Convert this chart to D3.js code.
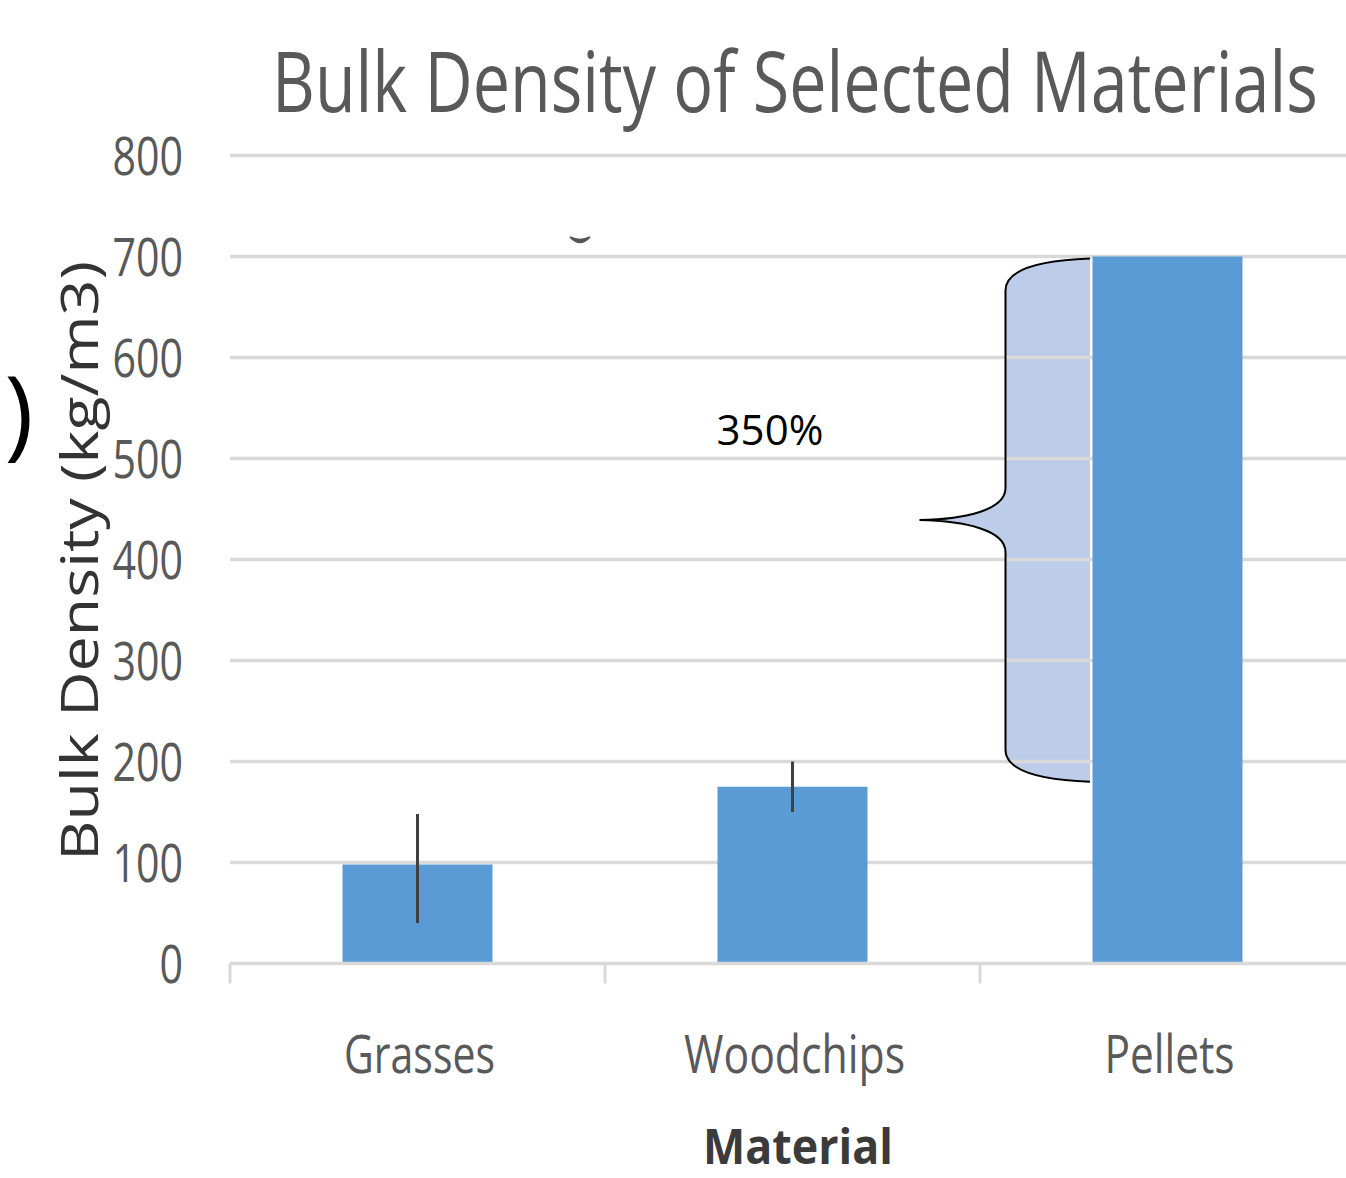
<!DOCTYPE html>
<html>
<head>
<meta charset="utf-8">
<script src="https://cdn.jsdelivr.net/npm/d3@7"></script>
<style>
  html, body { margin: 0; padding: 0; background: #fff; }
  svg { display: block; }
  text { font-family: "Open Sans", "DejaVu Sans", sans-serif; }
</style>
</head>
<body>
<svg id="chart" width="1346" height="1178"></svg>
<script>
// Bulk density per material (kg/m3)
const categories = ["Grasses", "Woodchips", "Pellets"];
const density = [98, 175, 700];
const errLow = [40, 150, null];
const errHigh = [148, 200, null];
const yTicks = [0, 100, 200, 300, 400, 500, 600, 700, 800];

// Span marked by the brace next to the Pellets bar
const braceFrom = 180;
const braceTo = 700;
const braceLabel = "350%";

const svg = d3.select("#chart");

const x = d3.scaleBand()
  .domain(categories)
  .range([230, 1355])
  .paddingInner(0.6)
  .paddingOuter(0.3);

const y = d3.scaleLinear().domain([0, 800]).range([963.5, 155.5]);

const plotLeft = 230, plotRight = 1346;

// Squeeze a text element horizontally to a target width
function fitWidth(sel, width, anchorX, anchorY, anchor) {
  const node = sel.node();
  const w = node.getComputedTextLength();
  const s = width / w;
  sel.attr("x", 0).attr("y", 0)
    .attr("text-anchor", anchor)
    .attr("transform", `translate(${anchorX},${anchorY}) scale(${s},1)`);
  return sel;
}

// Gridlines
svg.append("g")
  .selectAll("line")
  .data(yTicks.filter(d => d > 0))
  .join("line")
  .attr("x1", plotLeft).attr("x2", plotRight)
  .attr("y1", d => y(d)).attr("y2", d => y(d))
  .attr("stroke", "#d9d9d9").attr("stroke-width", 3.5);

// Y tick labels
svg.append("g")
  .selectAll("text")
  .data(yTicks)
  .join("text")
  .attr("x", 183)
  .attr("y", d => y(d) + 19)
  .attr("text-anchor", "end")
  .attr("font-size", 53)
  .attr("fill", "#595959")
  .attr("textLength", d => String(d).length * 23.5)
  .attr("lengthAdjust", "spacingAndGlyphs")
  .text(d => d);

// Brace annotation (filled region + outline)
const pel = categories[2];
const bx = x(pel);
const fillRight = bx - 2.5;
const vx = bx - 87;
const tipX = bx - 173;
const yTop = y(braceTo) + 2, yBot = y(braceFrom), yMid = (yTop + yBot) / 2;

function braceOutline(p) {
  p.moveTo(fillRight, yTop);
  p.bezierCurveTo(vx + 30, yTop + 2, vx, yTop + 12, vx, yTop + 32);
  p.lineTo(vx, yMid - 32);
  p.bezierCurveTo(vx, yMid - 10, vx - 40, yMid - 1, tipX, yMid);
  p.bezierCurveTo(vx - 40, yMid + 1, vx, yMid + 10, vx, yMid + 32);
  p.lineTo(vx, yBot - 32);
  p.bezierCurveTo(vx, yBot - 12, vx + 30, yBot - 2, fillRight, yBot);
  return p;
}

const fillPath = braceOutline(d3.path());
fillPath.closePath();

svg.append("path")
  .attr("d", fillPath.toString())
  .attr("fill", "#bdcde9");

// Gridlines show through the shaded band
svg.append("g")
  .selectAll("line")
  .data(yTicks.filter(d => d > braceFrom && d < braceTo))
  .join("line")
  .attr("x1", vx).attr("x2", fillRight)
  .attr("y1", d => y(d)).attr("y2", d => y(d))
  .attr("stroke", "#d9d9d9").attr("stroke-width", 3.5);

svg.append("path")
  .attr("d", braceOutline(d3.path()).toString())
  .attr("fill", "none")
  .attr("stroke", "#000")
  .attr("stroke-width", 2);

// Bars
svg.append("g")
  .selectAll("rect")
  .data(categories)
  .join("rect")
  .attr("x", d => x(d))
  .attr("width", x.bandwidth())
  .attr("y", (d, i) => y(density[i]))
  .attr("height", (d, i) => y(0) - y(density[i]))
  .attr("fill", "#5b9bd5");

// Error bars
svg.append("g")
  .selectAll("line")
  .data(categories.filter((d, i) => errLow[i] !== null))
  .join("line")
  .attr("x1", d => x(d) + x.bandwidth() / 2)
  .attr("x2", d => x(d) + x.bandwidth() / 2)
  .attr("y1", d => y(errLow[categories.indexOf(d)]))
  .attr("y2", d => y(errHigh[categories.indexOf(d)]))
  .attr("stroke", "#404040").attr("stroke-width", 3);

// Category axis
svg.append("line")
  .attr("x1", plotLeft).attr("x2", plotRight)
  .attr("y1", y(0)).attr("y2", y(0))
  .attr("stroke", "#d9d9d9").attr("stroke-width", 3.5);

const step = x.step();
const bounds = [0, 1, 2].map(i => x(categories[0]) - x.paddingOuter() * step + i * step);
svg.append("g")
  .selectAll("line")
  .data(bounds)
  .join("line")
  .attr("x1", d => d).attr("x2", d => d)
  .attr("y1", y(0)).attr("y2", y(0) + 20)
  .attr("stroke", "#d9d9d9").attr("stroke-width", 3);

const catWidths = [151, 221, 130];
svg.append("g")
  .selectAll("text")
  .data(categories)
  .join("text")
  .attr("x", d => x(d) + x.bandwidth() / 2 + 2)
  .attr("y", 1073)
  .attr("text-anchor", "middle")
  .attr("font-size", 53)
  .attr("fill", "#595959")
  .attr("textLength", (d, i) => catWidths[i])
  .attr("lengthAdjust", "spacingAndGlyphs")
  .text(d => d);

// Axis titles
const matTitle = svg.append("text")
  .attr("font-size", 49)
  .attr("font-weight", 700)
  .attr("fill", "#3b3b3b")
  .text("Material");
fitWidth(matTitle, 190, 798, 1164, "middle");

svg.append("text")
  .attr("transform", "translate(98,561) rotate(-90)")
  .attr("text-anchor", "middle")
  .attr("font-size", 51)
  .attr("fill", "#333")
  .attr("textLength", 600)
  .attr("lengthAdjust", "spacingAndGlyphs")
  .text("Bulk Density (kg/m3)");

// Chart title
const title = svg.append("text")
  .attr("font-size", 84)
  .attr("fill", "#595959")
  .text("Bulk Density of Selected Materials");
fitWidth(title, 1046, 272, 112, "start");

// Brace label
svg.append("text")
  .attr("x", 770).attr("y", 445)
  .attr("text-anchor", "middle")
  .attr("font-size", 42)
  .attr("fill", "#000")
  .text(braceLabel);

// Stray fragments at the edges
svg.append("text")
  .attr("x", 19).attr("y", 447)
  .attr("text-anchor", "middle")
  .attr("font-size", 98)
  .attr("fill", "#000")
  .text(")");

svg.append("path")
  .attr("d", "M570,237 Q580,248 590,237 Q580,242 570,237 Z")
  .attr("fill", "#555")
  .attr("stroke", "#555")
  .attr("stroke-width", 1.5);
</script>
</body>
</html>
